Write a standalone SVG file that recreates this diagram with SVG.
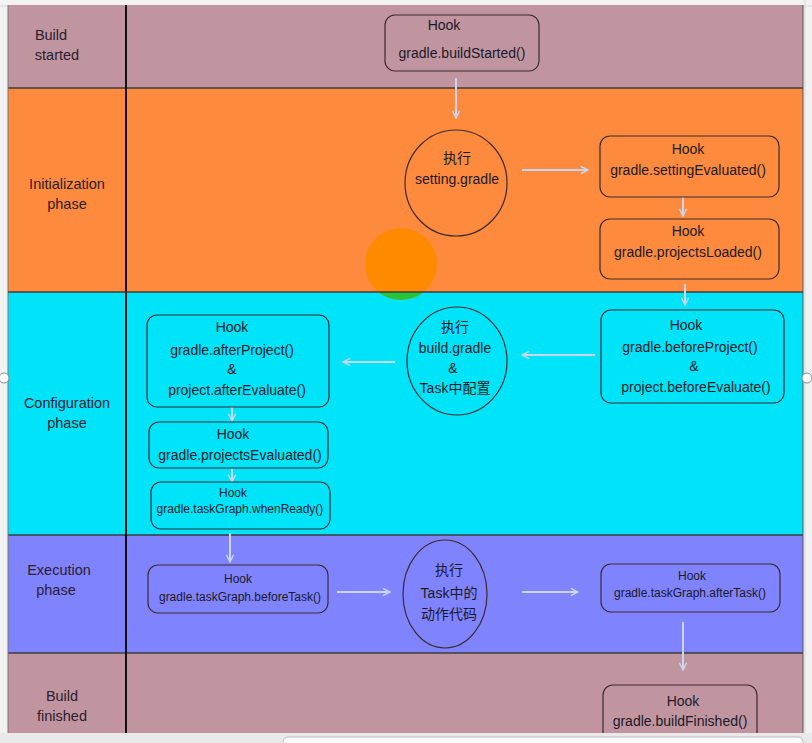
<svg xmlns="http://www.w3.org/2000/svg" width="812" height="743" viewBox="0 0 812 743">
<defs>
<style>
.t{font-family:"Liberation Sans","Noto Sans CJK SC",sans-serif;font-size:14px;fill:#1a1a28;text-anchor:middle}
.s{font-size:12px}
.lab{font-family:"Liberation Sans","Noto Sans CJK SC",sans-serif;font-size:14.5px;fill:#2a2030;text-anchor:middle}
.box{stroke:#3a2a30;stroke-width:1.2}
.c{stroke:#c9d6ee;stroke-width:2;fill:none}
.sep{stroke:#3c3c3c;stroke-width:1.5}
</style>
<marker id="ah" viewBox="0 0 10 10" refX="9" refY="5" markerWidth="9" markerHeight="9" orient="auto" markerUnits="userSpaceOnUse">
<path d="M1,1 L9,5 L1,9" fill="none" stroke="#c9d6ee" stroke-width="1.6"/>
</marker>
<clipPath id="below"><rect x="300" y="292" width="200" height="20"/></clipPath>
</defs>
<rect x="0" y="0" width="812" height="743" fill="#f2f2f2"/>
<g stroke="#d6d6d6" stroke-width="1">
<line x1="0" y1="6" x2="812" y2="6"/>
<line x1="805" y1="0" x2="805" y2="743"/>
</g>
<g id="bands">
<rect x="8" y="5" width="795" height="83" fill="#c1959f"/>
<rect x="8" y="88" width="795" height="204" fill="#fe8a3e"/>
<rect x="8" y="292" width="795" height="243" fill="#00e4fa"/>
<rect x="8" y="535" width="795" height="118" fill="#8083fe"/>
<rect x="8" y="653" width="795" height="82" fill="#c1959f"/>
<line class="sep" x1="8" y1="88" x2="803" y2="88"/>
<line class="sep" x1="8" y1="535" x2="803" y2="535"/>
<line class="sep" x1="8" y1="653" x2="803" y2="653"/>
<line x1="126" y1="5" x2="126" y2="735" stroke="#111" stroke-width="2"/>
<line x1="803" y1="5" x2="803" y2="735" stroke="#555" stroke-width="1"/>
<line x1="8" y1="5" x2="8" y2="735" stroke="#777" stroke-width="1"/>
</g>
<g id="labels">
<text class="lab" x="51" y="40">Build</text><text class="lab" x="57" y="60">started</text>
<text class="lab" x="67" y="189">Initialization</text><text class="lab" x="67" y="209">phase</text>
<text class="lab" x="67" y="408">Configuration</text><text class="lab" x="67" y="428">phase</text>
<text class="lab" x="59" y="575">Execution</text><text class="lab" x="56" y="595">phase</text>
<text class="lab" x="62" y="701">Build</text><text class="lab" x="62" y="721">finished</text>
</g>
<g id="highlight">
<circle cx="401" cy="264" r="36" fill="#ff8a00"/>
<circle cx="401" cy="264" r="36" fill="#26c43a" clip-path="url(#below)"/>
<line class="sep" x1="8" y1="292" x2="803" y2="292"/>
</g>
<g id="connectors">
<line class="c" x1="456" y1="78" x2="456" y2="118" marker-end="url(#ah)"/>
<line class="c" x1="522" y1="170" x2="588" y2="170" marker-end="url(#ah)"/>
<line class="c" x1="683" y1="197" x2="683" y2="216" marker-end="url(#ah)"/>
<line class="c" x1="685" y1="284" x2="685" y2="305" marker-end="url(#ah)"/>
<line class="c" x1="595" y1="355" x2="522" y2="355" marker-end="url(#ah)"/>
<line class="c" x1="395" y1="362" x2="343" y2="362" marker-end="url(#ah)"/>
<line class="c" x1="232" y1="407" x2="232" y2="421" marker-end="url(#ah)"/>
<line class="c" x1="232" y1="469" x2="232" y2="482" marker-end="url(#ah)"/>
<line class="c" x1="230" y1="533" x2="230" y2="562" marker-end="url(#ah)"/>
<line class="c" x1="337" y1="592" x2="390" y2="592" marker-end="url(#ah)"/>
<line class="c" x1="522" y1="592" x2="578" y2="592" marker-end="url(#ah)"/>
<line class="c" x1="683" y1="622" x2="683" y2="670" marker-end="url(#ah)"/>
</g>
<g id="buildStarted">
<rect class="box" x="385" y="15" width="154" height="56" rx="10" fill="#c1959f"/>
<text class="t" x="444" y="30">Hook</text>
<text class="t" x="462" y="58">gradle.buildStarted()</text>
</g>
<g id="settingGradle">
<ellipse class="box" cx="456" cy="183" rx="51" ry="53" fill="#fe8a3e"/>
<text class="t" x="457" y="163">执行</text>
<text class="t" x="457" y="184">setting.gradle</text>
</g>
<g id="settingEvaluated">
<rect class="box" x="600" y="136" width="179" height="61" rx="10" fill="#fe8a3e"/>
<text class="t" x="688" y="154">Hook</text>
<text class="t" x="688" y="175">gradle.settingEvaluated()</text>
</g>
<g id="projectsLoaded">
<rect class="box" x="600" y="219" width="179" height="60" rx="10" fill="#fe8a3e"/>
<text class="t" x="688" y="236">Hook</text>
<text class="t" x="688" y="257">gradle.projectsLoaded()</text>
</g>
<g id="beforeProject">
<rect class="box" x="601" y="310" width="183" height="93" rx="10" fill="#00e4fa"/>
<text class="t" x="686" y="330">Hook</text>
<text class="t" x="690" y="352">gradle.beforeProject()</text>
<text class="t" x="694" y="371">&amp;</text>
<text class="t" x="696" y="392">project.beforeEvaluate()</text>
</g>
<g id="buildGradle">
<ellipse class="box" cx="457" cy="361" rx="50" ry="54" fill="#00e4fa"/>
<text class="t" x="455" y="332">执行</text>
<text class="t" x="455" y="353">build.gradle</text>
<text class="t" x="453" y="373">&amp;</text>
<text class="t" x="455" y="393">Task中配置</text>
</g>
<g id="afterProject">
<rect class="box" x="147" y="315" width="182" height="92" rx="10" fill="#00e4fa"/>
<text class="t" x="232" y="332">Hook</text>
<text class="t" x="232" y="355">gradle.afterProject()</text>
<text class="t" x="232" y="374">&amp;</text>
<text class="t" x="237" y="395">project.afterEvaluate()</text>
</g>
<g id="projectsEvaluated">
<rect class="box" x="149" y="422" width="179" height="46" rx="10" fill="#00e4fa"/>
<text class="t" x="233" y="439">Hook</text>
<text class="t" x="240" y="460">gradle.projectsEvaluated()</text>
</g>
<g id="whenReady">
<rect class="box" x="151" y="482" width="179" height="47" rx="10" fill="#00e4fa"/>
<text class="t s" x="233" y="497">Hook</text>
<text class="t s" x="240" y="513">gradle.taskGraph.whenReady()</text>
</g>
<g id="beforeTask">
<rect class="box" x="148" y="565" width="180" height="48" rx="10" fill="#8083fe"/>
<text class="t s" x="238" y="583">Hook</text>
<text class="t s" x="240" y="601">gradle.taskGraph.beforeTask()</text>
</g>
<g id="taskActions">
<ellipse class="box" cx="445" cy="594" rx="42" ry="54" fill="#8083fe"/>
<text class="t" x="449" y="575">执行</text>
<text class="t" x="449" y="598">Task中的</text>
<text class="t" x="449" y="619">动作代码</text>
</g>
<g id="afterTask">
<rect class="box" x="601" y="564" width="179" height="48" rx="10" fill="#8083fe"/>
<text class="t s" x="692" y="580">Hook</text>
<text class="t s" x="690" y="597">gradle.taskGraph.afterTask()</text>
</g>
<g id="buildFinished">
<rect class="box" x="603" y="685" width="154" height="60" rx="10" fill="#c1959f"/>
<text class="t" x="683" y="706">Hook</text>
<text class="t" x="680" y="726">gradle.buildFinished()</text>
</g>
<g id="chrome">
<rect x="0" y="733" width="812" height="10" fill="#e9e9e9"/>
<rect x="283" y="737" width="520" height="12" rx="5" fill="#fbfbfb" stroke="#bbb"/>
<circle cx="4" cy="378" r="5" fill="#fff" stroke="#888"/>
<circle cx="807" cy="378" r="5" fill="#fff" stroke="#888"/>
</g>
</svg>
